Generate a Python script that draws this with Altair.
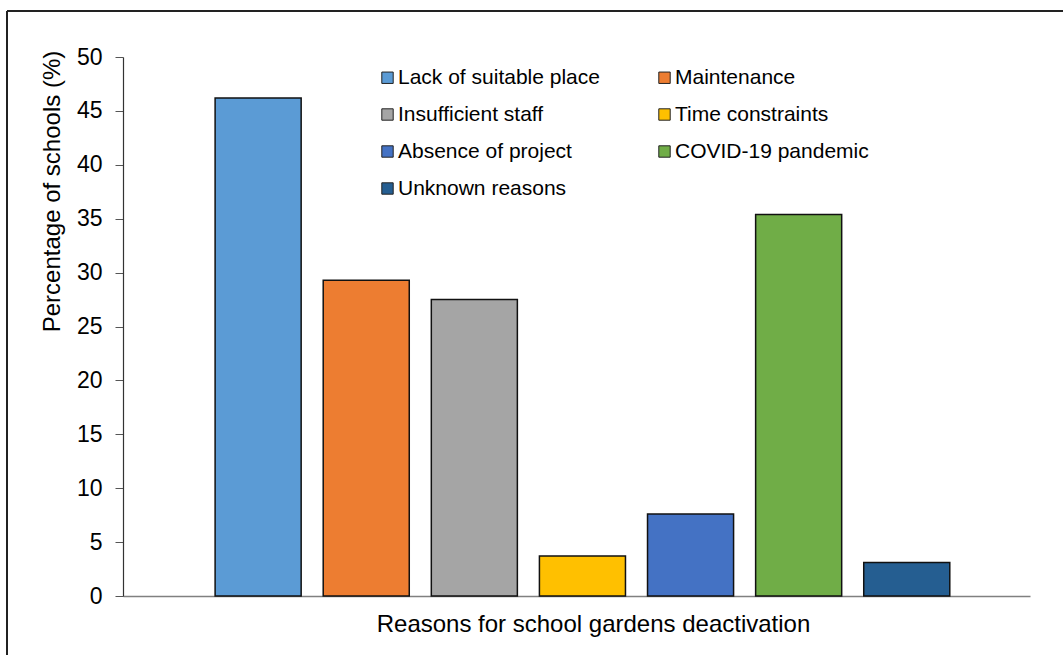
import altair as alt
import pandas as pd

# Reasons reported for deactivating school gardens
reasons = [
    "Lack of suitable place",
    "Maintenance",
    "Insufficient staff",
    "Time constraints",
    "Absence of project",
    "COVID-19 pandemic",
    "Unknown reasons",
]
percent = [46.2, 29.3, 27.5, 3.7, 7.6, 35.4, 3.1]
colors = ["#5B9BD5", "#ED7D31", "#A5A5A5", "#FFC000", "#4472C4", "#70AD47", "#255E91"]

df = pd.DataFrame({"reason": reasons, "pct": percent, "pos": list(range(len(reasons)))})

FONT = "Liberation Sans"
W, H = 907, 539
PAD_L, PAD_T = 123, 57

bars = (
    alt.Chart(df)
    .transform_calculate(lo="datum.pos - 0.398", hi="datum.pos + 0.398")
    .mark_bar(stroke="#111111", strokeWidth=1.5)
    .encode(
        x=alt.X(
            "lo:Q",
            scale=alt.Scale(domain=[-1.25, 7.14], nice=False, zero=False),
            axis=alt.Axis(
                title="Reasons for school gardens deactivation",
                labels=False,
                ticks=False,
                grid=False,
                domainColor="#808080",
                domainWidth=1.5,
                titleFont=FONT,
                titleFontSize=24,
                titleFontWeight="normal",
                titleColor="#000000",
                titleX=470,
                titleY=35,
                titleBaseline="alphabetic",
                titleAlign="center",
                titleAnchor=None,
            ),
        ),
        x2="hi:Q",
        y=alt.Y(
            "pct:Q",
            scale=alt.Scale(domain=[0, 50], nice=False),
            axis=alt.Axis(
                title="Percentage of schools (%)",
                values=list(range(0, 51, 5)),
                grid=False,
                domainColor="#333333",
                domainWidth=1.2,
                tickColor="#555555",
                tickSize=8,
                labelPadding=13,
                labelFont=FONT,
                labelFontSize=23,
                labelColor="#000000",
                titleFont=FONT,
                titleFontSize=24,
                titleFontWeight="normal",
                titleColor="#000000",
                titleX=-64,
                titleY=134,
                titleAngle=-90,
                titleBaseline="alphabetic",
                titleAlign="center",
            ),
        ),
        y2=alt.datum(0),
        fill=alt.Fill(
            "reason:N",
            scale=alt.Scale(domain=reasons, range=colors),
            legend=alt.Legend(
                title=None,
                orient="none",
                direction="horizontal",
                legendX=254,
                legendY=10,
                columns=2,
                columnPadding=54,
                rowPadding=15,
                padding=0,
                symbolType="square",
                symbolSize=130,
                symbolStrokeColor="#222222",
                symbolStrokeWidth=1,
                labelFont=FONT,
                labelFontSize=21,
                labelColor="#000000",
                labelOffset=0,
                labelLimit=400,
            ),
        ),
    )
)

# Frame lines along the top and left edge of the figure
frame_top = alt.Chart(df).mark_rule(color="#222222", strokeWidth=2).encode(
    x=alt.value(7 - PAD_L), x2=alt.value(1063 - PAD_L), y=alt.value(11 - PAD_T)
)
frame_left = alt.Chart(df).mark_rule(color="#222222", strokeWidth=1.5).encode(
    x=alt.value(7 - PAD_L), y=alt.value(11 - PAD_T), y2=alt.value(655 - PAD_T)
)

chart = (
    alt.layer(frame_top, frame_left, bars)
    .properties(
        width=W,
        height=H,
        autosize=alt.AutoSizeParams(type="none"),
        padding={"left": PAD_L, "top": PAD_T, "right": 1063 - PAD_L - W, "bottom": 655 - PAD_T - H},
        background="#ffffff",
    )
    .configure_view(stroke=None)
)

chart.save("out.html", embed_options={"renderer": "svg", "actions": False})
